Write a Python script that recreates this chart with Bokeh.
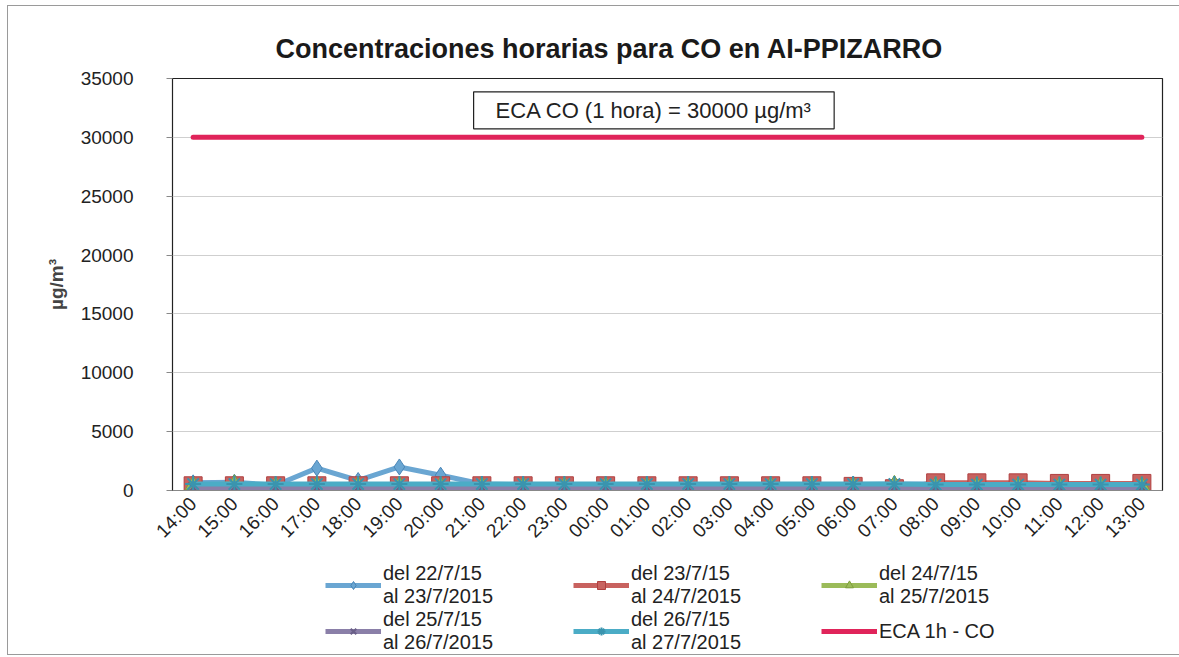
import math
from bokeh.plotting import figure
from bokeh.layouts import column
from bokeh.models import Legend, LegendItem, Label, FixedTicker, ColumnDataSource, Range1d
from bokeh.embed import file_html
from bokeh.resources import INLINE

hours = ["14:00", "15:00", "16:00", "17:00", "18:00", "19:00", "20:00", "21:00",
         "22:00", "23:00", "00:00", "01:00", "02:00", "03:00", "04:00", "05:00",
         "06:00", "07:00", "08:00", "09:00", "10:00", "11:00", "12:00", "13:00"]

s1 = [650, 700, 450, 1900, 850, 2000, 1300, 550, 500, 500, 500, 500,
      500, 500, 500, 500, 500, 550, 550, 550, 550, 500, 500, 500]
s2 = [400, 400, 400, 400, 400, 400, 400, 400, 400, 400, 400, 400,
      400, 400, 400, 400, 350, 150, 650, 650, 650, 600, 600, 600]
s3 = [450, 550, 400, 450, 450, 450, 400, 400, 400, 400, 400, 400,
      400, 400, 400, 400, 400, 500, 400, 400, 400, 400, 400, 400]
s4 = [250, 250, 250, 250, 250, 250, 250, 250, 250, 250, 250, 250,
      250, 250, 250, 250, 250, 250, 250, 250, 250, 250, 250, 250]
s5 = [550, 550, 550, 550, 550, 550, 550, 550, 550, 550, 550, 550,
      550, 550, 550, 550, 550, 550, 500, 500, 500, 500, 500, 500]
eca = [30000] * 24

names = [["del 22/7/15", "al 23/7/2015"], ["del 23/7/15", "al 24/7/2015"],
         ["del 24/7/15", "al 25/7/2015"], ["del 25/7/15", "al 26/7/2015"],
         ["del 26/7/15", "al 27/7/2015"]]
eca_name = "ECA 1h - CO"
title_text = "Concentraciones horarias para CO en AI-PPIZARRO"
note_text = "ECA CO (1 hora) = 30000 µg/m³"
y_ticks = [0, 5000, 10000, 15000, 20000, 25000, 30000, 35000]

FONT = "Liberation Sans"
W = 1171
H_MAIN = 546
H_LEG = 102

p = figure(width=W, height=H_MAIN, x_range=hours, y_range=Range1d(0, 35000),
           output_backend="svg", toolbar_location=None,
           min_border_left=164, min_border_right=17, min_border_top=72,
           min_border_bottom=H_MAIN - 484)

p.title.text = title_text
p.title.align = "left"
p.title.offset = 103
p.title.text_font = FONT
p.title.text_font_size = "27px"
p.title.text_font_style = "bold"
p.title.text_color = "#1a1a1a"
p.title.standoff = 30

p.outline_line_color = "#222222"
p.outline_line_width = 1.2

p.xgrid.grid_line_color = None
p.ygrid.grid_line_color = "#cfcfcf"
p.ygrid.grid_line_width = 1

p.yaxis.ticker = FixedTicker(ticks=y_ticks)
p.yaxis.axis_label = "µg/m³"
p.yaxis.axis_label_text_font = FONT
p.yaxis.axis_label_text_font_style = "bold"
p.yaxis.axis_label_text_font_size = "19px"
p.yaxis.axis_label_standoff = 11
p.yaxis.major_label_text_font = FONT
p.yaxis.major_label_text_font_size = "19px"
p.yaxis.major_label_text_color = "#222222"
p.yaxis.major_label_standoff = 33
p.yaxis.axis_line_color = "#222222"
p.yaxis.major_tick_out = 6
p.yaxis.major_tick_in = 0
p.yaxis.minor_tick_line_color = None
p.yaxis.major_tick_line_color = "#888888"

p.xaxis.major_label_orientation = math.pi / 4
p.xaxis.major_label_text_font = FONT
p.xaxis.major_label_text_font_size = "19px"
p.xaxis.major_label_text_color = "#222222"
p.xaxis.major_tick_line_color = None
p.xaxis.axis_line_color = "#888888"
p.xaxis.major_label_standoff = 4

series = [
    (s1, "#6aa6d2", "#4a86b8", "diamond", 16),
    (s2, "#c8625f", "#b04040", "square", 18),
    (s3, "#9bbb59", "#7f9e3d", "triangle", 16),
    (s4, "#8a7fa8", "#6a5f88", "x", 14),
    (s5, "#4bacc6", "#3a94ae", "asterisk", 16),
]

# legend strip below the chart; its y-range keeps the series out of view
pl = figure(width=W, height=H_LEG, x_range=p.x_range, y_range=Range1d(-2000, -1000),
            output_backend="svg", toolbar_location=None,
            min_border_left=164, min_border_right=17,
            min_border_top=0, min_border_bottom=0)
pl.axis.visible = False
pl.grid.grid_line_color = None
pl.outline_line_color = None

items = []
for (vals, col, dark, mk, sz), nm in zip(series, names):
    src = ColumnDataSource(dict(x=hours, y=vals))
    p.line("x", "y", source=src, line_color=col, line_width=5)
    lr = pl.line("x", "y", source=src, line_color=col, line_width=5)
    if mk in ("x", "asterisk"):
        kw = dict(marker=mk, size=sz, line_color=dark, line_width=2)
    else:
        kw = dict(marker=mk, size=sz, fill_color=col, line_color=dark, line_width=1)
    p.scatter("x", "y", source=src, **kw)
    mr = pl.scatter("x", "y", source=src, **kw)
    items.append(LegendItem(label="\n".join(nm), renderers=[lr, mr]))

esrc = ColumnDataSource(dict(x=hours, y=eca))
p.line("x", "y", source=esrc, line_color="#e0245a", line_width=5, line_cap="round")
er = pl.line("x", "y", source=esrc, line_color="#e0245a", line_width=5)
items.append(LegendItem(label=eca_name, renderers=[er]))

p.add_layout(Label(x=11.67, y=32300, text=note_text, text_align="center",
                   text_baseline="middle", text_font=FONT,
                   text_font_size="22px", text_color="#222222",
                   border_line_color="#222222", border_line_width=1.2,
                   background_fill_color="white",
                   padding=(22, 22, 6, 6)))

legend = Legend(items=items, ncols=3, orientation="horizontal",
                location=(153, 0),
                label_text_font=FONT, label_text_font_size="20px",
                label_text_color="#222222", glyph_width=56, glyph_height=20,
                label_standoff=2, spacing=0, label_width=190,
                border_line_color=None,
                background_fill_alpha=0, padding=0, margin=0,
                label_text_line_height=1.0)
pl.add_layout(legend, "center")

layout = column(p, pl, spacing=0,
                styles={"border-left": "1px solid #9a9a9a",
                        "border-top": "1px solid #9a9a9a",
                        "border-bottom": "1px solid #9a9a9a",
                        "margin-left": "7px", "margin-top": "5px"})
open("out.html", "w").write(file_html(layout, INLINE))
